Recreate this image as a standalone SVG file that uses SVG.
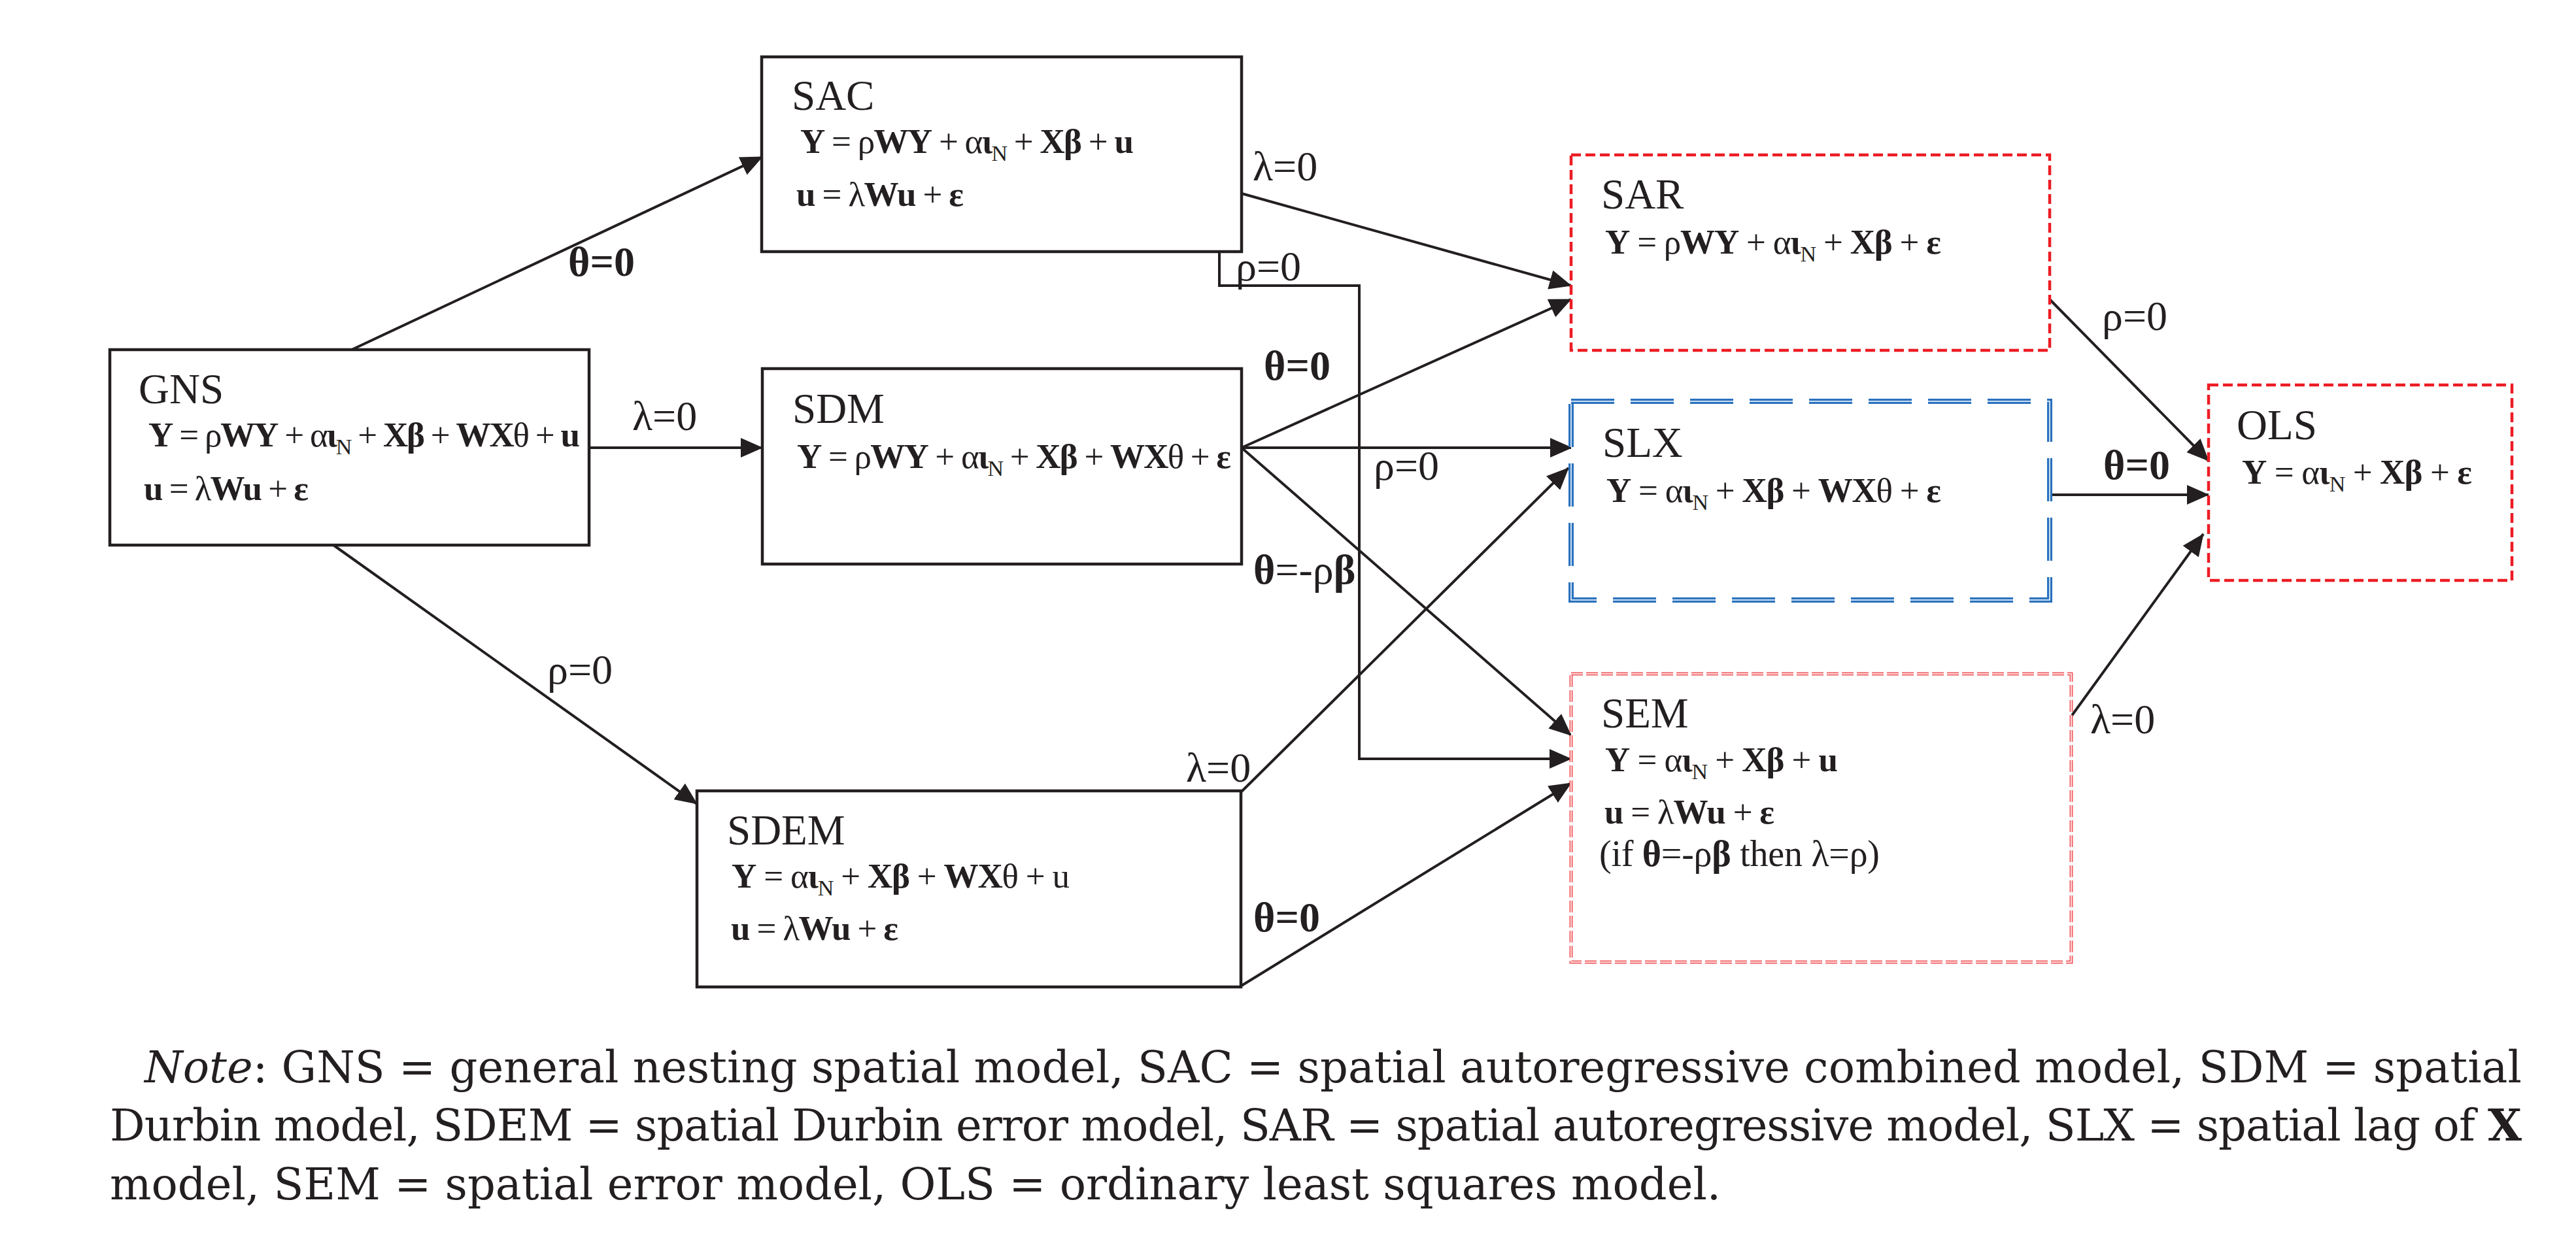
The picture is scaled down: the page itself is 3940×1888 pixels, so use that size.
<svg xmlns="http://www.w3.org/2000/svg" width="3940" height="1888" viewBox="0 0 3940 1888">
<style>
text{font-family:"Liberation Serif","Times New Roman",serif;fill:#231f20}
.t{font-size:65px}
.eq{font-size:53px}
.b{font-weight:bold}
.s{font-size:34px;font-weight:normal}
.lab{font-size:64px}
.box{fill:#fff;stroke:#231f20;stroke-width:4.5}
.red{fill:#fff;stroke:#ED1C24;stroke-width:4.5;stroke-dasharray:15 7}
.blue{fill:none;stroke:#2A72BE;stroke-width:8;stroke-dasharray:66 25}
.bluei{fill:none;stroke:#fff;stroke-width:1.5;stroke-dasharray:66 25}
.pink{fill:none;stroke:#F0585D;stroke-width:5;stroke-dasharray:18 5}
.pinki{fill:none;stroke:#fff;stroke-width:1.5;stroke-dasharray:18 5}
.c{fill:none;stroke:#231f20;stroke-width:4;marker-end:url(#ah)}
.note{font-family:"DejaVu Serif","Liberation Serif",serif;font-size:67px}
</style>
<defs>
<marker id="ah" markerUnits="userSpaceOnUse" markerWidth="34" markerHeight="30" viewBox="0 0 34 30" refX="33" refY="15" orient="auto">
<path d="M0,0 L34,15 L0,30 z" fill="#231f20"/>
</marker>
</defs>
<rect width="3940" height="1888" fill="#fff"/>

<g id="connectors">
<line class="c" x1="538" y1="535" x2="1166" y2="240"/>
<line class="c" x1="901" y1="685" x2="1166" y2="685"/>
<line class="c" x1="510" y1="834" x2="1066" y2="1230"/>
<line class="c" x1="1899" y1="296" x2="2403" y2="437"/>
<path class="c" d="M1865,385 L1865,437 L2079,437 L2079,1161 L2403,1161"/>
<line class="c" x1="1899" y1="685" x2="2403" y2="458"/>
<line class="c" x1="1899" y1="685" x2="2404" y2="685"/>
<line class="c" x1="1899" y1="685" x2="2403" y2="1125"/>
<line class="c" x1="1898" y1="1212" x2="2399" y2="716"/>
<line class="c" x1="1899" y1="1508" x2="2403" y2="1198"/>
<line class="c" x1="3135" y1="458" x2="3378" y2="705"/>
<line class="c" x1="3135" y1="757" x2="3378" y2="757"/>
<line class="c" x1="3168" y1="1096" x2="3370" y2="817"/>
<text class="lab b" x="869" y="422">θ=0</text>
<text class="lab" x="967" y="658">λ=0</text>
<text class="lab" x="837" y="1046">ρ=0</text>
<text class="lab" x="1916" y="276">λ=0</text>
<text class="lab" x="1890" y="429">ρ=0</text>
<text class="lab b" x="1933" y="581">θ=0</text>
<text class="lab" x="2101" y="734">ρ=0</text>
<text class="lab" x="1917" y="893"><tspan class="b">θ</tspan>=-ρ<tspan class="b">β</tspan></text>
<text class="lab" x="1814" y="1196">λ=0</text>
<text class="lab b" x="1917" y="1425">θ=0</text>
<text class="lab" x="3215" y="505">ρ=0</text>
<text class="lab b" x="3217" y="733">θ=0</text>
<text class="lab" x="3197" y="1122">λ=0</text>
</g>

<g id="GNS">
<rect class="box" x="168" y="535" width="733" height="299"/>
<text class="t" x="212" y="617">GNS</text>
<text class="eq" x="227" y="683" textLength="660"><tspan class="b">Y</tspan> = ρ<tspan class="b">WY</tspan> + α<tspan class="b">ι</tspan><tspan class="s" dy="12">N</tspan><tspan dy="-12"> + </tspan><tspan class="b">Xβ</tspan> + <tspan class="b">WX</tspan>θ + <tspan class="b">u</tspan></text>
<text class="eq" x="220" y="765" textLength="252"><tspan class="b">u</tspan> = λ<tspan class="b">Wu</tspan> + <tspan class="b">ε</tspan></text>
</g>

<g id="SAC">
<rect class="box" x="1165" y="87" width="734" height="298"/>
<text class="t" x="1211" y="168">SAC</text>
<text class="eq" x="1224" y="234" textLength="510"><tspan class="b">Y</tspan> = ρ<tspan class="b">WY</tspan> + α<tspan class="b">ι</tspan><tspan class="s" dy="12">N</tspan><tspan dy="-12"> + </tspan><tspan class="b">Xβ</tspan> + <tspan class="b">u</tspan></text>
<text class="eq" x="1218" y="315" textLength="256"><tspan class="b">u</tspan> = λ<tspan class="b">Wu</tspan> + <tspan class="b">ε</tspan></text>
</g>

<g id="SDM">
<rect class="box" x="1166" y="564" width="733" height="299"/>
<text class="t" x="1212" y="647">SDM</text>
<text class="eq" x="1219" y="716" textLength="664"><tspan class="b">Y</tspan> = ρ<tspan class="b">WY</tspan> + α<tspan class="b">ι</tspan><tspan class="s" dy="12">N</tspan><tspan dy="-12"> + </tspan><tspan class="b">Xβ</tspan> + <tspan class="b">WX</tspan>θ + <tspan class="b">ε</tspan></text>
</g>

<g id="SDEM">
<rect class="box" x="1066" y="1210" width="832" height="300"/>
<text class="t" x="1112" y="1292">SDEM</text>
<text class="eq" x="1119" y="1358" textLength="517"><tspan class="b">Y</tspan> = α<tspan class="b">ι</tspan><tspan class="s" dy="12">N</tspan><tspan dy="-12"> + </tspan><tspan class="b">Xβ</tspan> + <tspan class="b">WX</tspan>θ + u</text>
<text class="eq" x="1118" y="1438" textLength="256"><tspan class="b">u</tspan> = λ<tspan class="b">Wu</tspan> + <tspan class="b">ε</tspan></text>
</g>

<g id="SAR">
<rect class="red" x="2403" y="237" width="732" height="299"/>
<text class="t" x="2449" y="319">SAR</text>
<text class="eq" x="2455" y="388" textLength="514"><tspan class="b">Y</tspan> = ρ<tspan class="b">WY</tspan> + α<tspan class="b">ι</tspan><tspan class="s" dy="12">N</tspan><tspan dy="-12"> + </tspan><tspan class="b">Xβ</tspan> + <tspan class="b">ε</tspan></text>
</g>

<g id="SLX">
<rect x="2403" y="614" width="732" height="304" fill="#fff"/>
<rect class="blue" x="2403" y="614" width="732" height="304"/>
<rect class="bluei" x="2403" y="614" width="732" height="304"/>
<text class="t" x="2451" y="699">SLX</text>
<text class="eq" x="2457" y="768" textLength="512"><tspan class="b">Y</tspan> = α<tspan class="b">ι</tspan><tspan class="s" dy="12">N</tspan><tspan dy="-12"> + </tspan><tspan class="b">Xβ</tspan> + <tspan class="b">WX</tspan>θ + <tspan class="b">ε</tspan></text>
</g>

<g id="SEM">
<rect x="2403" y="1031" width="765" height="441" fill="#fff"/>
<rect class="pink" x="2403" y="1031" width="765" height="441"/>
<rect class="pinki" x="2403" y="1031" width="765" height="441"/>
<text class="t" x="2449" y="1113">SEM</text>
<text class="eq" x="2455" y="1180" textLength="356"><tspan class="b">Y</tspan> = α<tspan class="b">ι</tspan><tspan class="s" dy="12">N</tspan><tspan dy="-12"> + </tspan><tspan class="b">Xβ</tspan> + <tspan class="b">u</tspan></text>
<text class="eq" x="2454" y="1260" textLength="260"><tspan class="b">u</tspan> = λ<tspan class="b">Wu</tspan> + <tspan class="b">ε</tspan></text>
<text class="eq" x="2446" y="1325" textLength="429" style="font-size:56px">(if <tspan class="b">θ</tspan>=-ρ<tspan class="b">β</tspan> then λ=ρ)</text>
</g>

<g id="OLS">
<rect class="red" x="3378" y="589" width="464" height="299"/>
<text class="t" x="3421" y="672">OLS</text>
<text class="eq" x="3429" y="740" textLength="352"><tspan class="b">Y</tspan> = α<tspan class="b">ι</tspan><tspan class="s" dy="12">N</tspan><tspan dy="-12"> + </tspan><tspan class="b">Xβ</tspan> + <tspan class="b">ε</tspan></text>
</g>

<g id="note">
<text class="note" x="221" y="1656" textLength="3636"><tspan font-style="italic">Note</tspan>: GNS = general nesting spatial model, SAC = spatial autoregressive combined model, SDM = spatial</text>
<text class="note" x="168" y="1745" textLength="3689">Durbin model, SDEM = spatial Durbin error model, SAR = spatial autoregressive model, SLX = spatial lag of <tspan font-weight="bold">X</tspan></text>
<text class="note" x="168" y="1835">model, SEM = spatial error model, OLS = ordinary least squares model.</text>
</g>
</svg>
